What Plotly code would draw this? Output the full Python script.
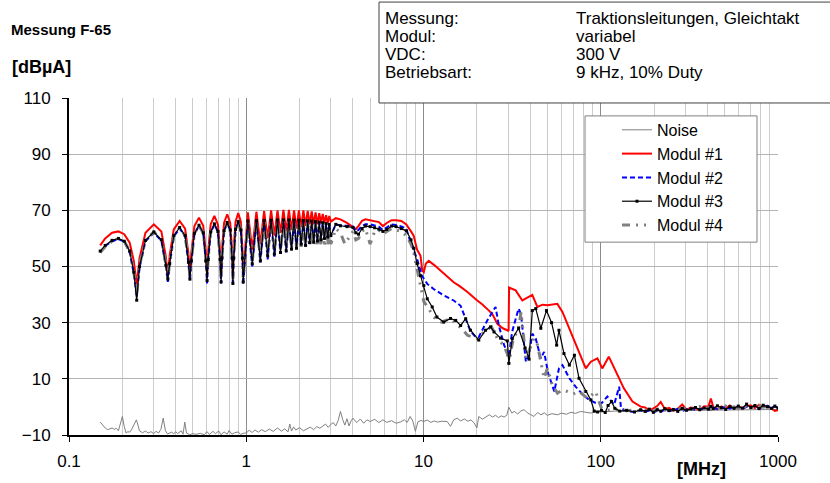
import plotly.graph_objects as go

# ---------------- data ----------------
COMB_F = [0.150, 0.160, 0.175, 0.190, 0.205, 0.220, 0.232, 0.241,
          0.250, 0.270, 0.301, 0.332, 0.352, 0.361,
          0.370, 0.390, 0.421, 0.452, 0.472, 0.481,
          0.490, 0.510, 0.541, 0.572, 0.592, 0.601,
          0.610, 0.630, 0.661, 0.692, 0.712, 0.721,
          0.730, 0.750, 0.781, 0.812, 0.832, 0.841,
          0.850, 0.870, 0.901, 0.932, 0.952, 0.961,
          1.021, 1.081, 1.141, 1.201, 1.261, 1.321, 1.381, 1.441, 1.501, 1.561,
          1.621, 1.681, 1.741, 1.801, 1.861, 1.921, 1.981, 2.041, 2.101, 2.161,
          2.221, 2.281, 2.341, 2.401, 2.461, 2.521, 2.581, 2.641, 2.701, 2.761,
          2.821, 2.881, 2.941, 3.001]

M1_COMB = [57.5, 60.0, 62.0, 62.5, 61.5, 58.5, 52.0, 43.5,
           53.0, 62.0, 65.0, 62.5, 53.5, 46.5,
           54.0, 63.2, 66.2, 63.5, 54.5, 47.0,
           55.0, 64.4, 67.4, 64.5, 55.0, 47.0,
           55.5, 65.0, 68.0, 65.0, 55.0, 46.5,
           56.0, 65.6, 68.6, 65.5, 55.5, 46.0,
           56.5, 66.0, 69.0, 66.0, 56.0, 46.5,
           69.3, 56.0, 69.5, 58.0, 69.7, 60.0, 70.0, 61.0, 70.0, 62.0,
           70.2, 62.5, 70.2, 63.0, 70.0, 63.5, 70.0, 64.0, 70.0, 64.5,
           69.8, 65.0, 69.6, 65.0, 69.3, 65.0, 69.0, 65.5, 68.7, 65.5,
           68.3, 65.5, 68.0, 66.0]

M2_COMB = [55.0, 57.3, 59.0, 59.8, 58.8, 55.0, 47.5, 39.0,
           49.5, 59.0, 62.0, 59.2, 50.0, 44.5,
           50.5, 60.7, 63.6, 60.8, 51.0, 45.0,
           51.5, 61.5, 64.5, 61.8, 51.5, 44.0,
           52.0, 62.0, 65.0, 62.3, 52.0, 44.0,
           52.5, 62.5, 65.5, 62.8, 52.5, 43.0,
           52.5, 63.0, 65.8, 62.8, 52.5, 43.5,
           66.0, 50.0, 66.1, 51.5, 66.2, 52.5, 66.3, 53.5, 66.4, 54.5,
           66.4, 55.0, 66.4, 55.8, 66.3, 56.5, 66.3, 57.0, 66.2, 57.5,
           66.1, 58.0, 66.0, 58.5, 65.9, 59.0, 65.8, 59.5, 65.6, 60.0,
           65.4, 60.5, 65.2, 61.0]

M3_COMB = [55.5, 57.5, 59.3, 60.0, 59.0, 55.5, 48.0, 38.0,
           50.0, 59.3, 62.3, 59.5, 50.5, 45.5,
           51.0, 61.0, 63.9, 61.0, 51.5, 45.5,
           52.0, 61.8, 64.7, 62.0, 52.0, 45.0,
           52.5, 62.3, 65.2, 62.5, 52.5, 44.5,
           53.0, 62.8, 65.7, 63.0, 53.0, 44.0,
           53.0, 63.2, 66.0, 63.0, 53.0, 44.5,
           66.2, 51.0, 66.3, 52.0, 66.4, 53.8, 66.5, 54.4, 66.6, 55.0,
           66.6, 55.6, 66.6, 56.2, 66.5, 56.5, 66.5, 58.0, 66.4, 57.5,
           66.3, 58.5, 66.2, 58.7, 66.0, 59.1, 65.8, 59.5, 65.6, 60.0,
           65.3, 60.5, 65.0, 61.0]

M4_COMB = [55.0, 57.0, 59.0, 59.8, 59.0, 55.5, 48.5, 39.5,
           50.5, 59.5, 62.3, 59.5, 51.0, 46.0,
           51.5, 61.0, 63.8, 61.0, 52.0, 46.5,
           52.5, 61.8, 64.6, 62.0, 52.5, 46.5,
           53.0, 62.3, 65.0, 62.5, 53.0, 46.0,
           53.5, 62.8, 65.5, 63.0, 53.5, 45.5,
           53.5, 63.0, 65.8, 63.0, 53.5, 46.0,
           66.0, 52.0, 66.0, 53.5, 66.1, 54.5, 66.1, 55.5, 66.0, 56.0,
           66.0, 56.5, 66.0, 56.5, 65.8, 57.0, 65.8, 57.0, 65.6, 57.5,
           65.5, 57.0, 65.3, 57.5, 65.0, 57.0, 64.8, 57.5, 64.5, 57.0,
           64.2, 57.5, 64.0, 58.0]

M1_MID_F = [3.2, 3.4, 3.7, 4.0, 4.15, 4.3, 4.5, 4.7, 5.0, 5.3,
            5.6, 5.9, 6.2, 6.6, 7.0, 7.5, 8.0, 8.5, 8.8, 9.2,
            9.62, 9.84, 10.04, 10.3, 10.7, 11.5, 13.0, 14.8, 16.0, 17.7,
            20.1, 21.5, 23.4, 24.5, 26.1, 28.0, 29.7, 30.2, 30.4, 33.1,
            36.1, 38.5, 41.1, 43.9, 46.9, 50.0, 53.0, 56.9, 60.8, 67.7,
            75.4, 82.3, 87.9, 95.8, 102, 111, 122, 135, 151, 168]
M1_MID = [67.2, 66.8, 65.5, 64.0, 63.3, 64.5, 66.3, 66.8, 66.5, 66.3,
          65.8, 64.4, 65.5, 66.5, 66.5, 66.2, 65.0, 62.5, 61.0, 56.0,
          53.8, 48.5, 48.0, 51.0, 52.0, 50.5, 47.5, 44.4, 43.0, 40.9,
          37.9, 36.5, 34.3, 33.0, 29.6, 28.0, 27.3, 27.0, 42.5, 41.5,
          37.9, 39.0, 39.9, 35.6, 36.4, 36.2, 36.5, 36.7, 33.8, 26.7,
          19.6, 13.7, 16.1, 17.3, 13.7, 17.9, 12.5, 6.6, 1.9, 0.1]

M2_MID_F = [3.2, 3.4, 3.7, 4.0, 4.15, 4.3, 4.5, 4.7, 5.0, 5.3,
            5.6, 5.9, 6.2, 6.6, 7.0, 7.5, 8.0, 8.45, 9.2, 9.8,
            10.5, 11.4, 13.0, 14.8, 16.2, 17.3, 18.4, 19.5, 20.5, 22.9,
            25.5, 26.6, 28.5, 29.7, 30.3, 31.6, 34.4, 35.5, 37.8, 39.4,
            41.1, 43.0, 45.9, 47.9, 50.5, 54.7, 58.1, 60.8, 66.5, 72.1,
            79.6, 86.0, 93.0, 101, 109, 119, 125, 127, 130, 140,
            155, 168]
M2_MID = [65.0, 64.6, 64.5, 64.3, 62.5, 63.0, 64.5, 65.0, 65.0, 64.7,
          64.2, 63.0, 64.0, 65.0, 64.8, 64.3, 63.5, 58.6, 52.7, 46.7,
          43.8, 42.0, 39.7, 37.9, 36.0, 31.0, 27.0, 25.2, 24.9, 30.8,
          35.6, 29.0, 22.0, 19.6, 18.0, 26.7, 35.0, 33.0, 16.1, 18.4,
          26.1, 24.3, 17.3, 19.6, 12.0, 5.5, 13.7, 14.9, 10.2, 7.2,
          4.3, 2.5, 1.5, 1.3, 3.7, 0.8, 5.0, 7.2, -0.4, -1.5,
          -1.8, -1.2]

M3_MID_F = [3.2, 3.4, 3.7, 4.0, 4.15, 4.3, 4.5, 4.7, 5.0, 5.3,
            5.6, 5.9, 6.2, 6.6, 7.0, 7.5, 8.0, 8.5, 8.82, 9.2,
            9.62, 10.04, 10.5, 11.2, 11.9, 13.0, 14.2, 15.2, 16.2, 17.3,
            18.4, 20.5, 22.4, 23.9, 25.0, 27.2, 29.7, 30.3, 31.7, 34.4,
            37.4, 39.4, 41.1, 43.0, 45.9, 49.4, 52.8, 56.4, 58.1, 62.0,
            66.5, 71.0, 75.4, 82.3, 87.9, 91.9, 96.0, 101, 106, 110,
            115, 120, 128, 140, 155, 168]
M3_MID = [65.0, 64.5, 64.2, 63.9, 62.0, 61.5, 63.5, 64.4, 64.2, 63.8,
          63.3, 62.5, 63.2, 64.4, 64.2, 63.5, 62.7, 59.5, 56.5, 51.0,
          46.7, 43.2, 38.5, 35.6, 32.0, 30.2, 31.5, 30.8, 29.0, 31.4,
          27.3, 23.8, 27.3, 28.5, 26.7, 24.5, 23.5, 15.5, 24.3, 28.0,
          21.0, 17.0, 34.3, 35.0, 28.0, 34.3, 30.0, 22.0, 27.3, 19.0,
          14.9, 18.4, 10.2, 5.5, 2.5, -1.5, -1.8, -1.2, -2.0, 0.5,
          1.9, -0.5, -1.5, -1.2, -1.8, -1.0]

M4_MID_F = [3.2, 3.4, 3.6, 3.8, 4.0, 4.15, 4.3, 4.5, 4.7, 5.0,
            5.3, 5.6, 5.9, 6.2, 6.6, 7.0, 7.5, 8.0, 8.5, 8.8,
            9.2, 9.6, 10.04, 10.7, 11.4, 12.6, 14.2, 16.4, 17.7, 20.1,
            22.4, 24.2, 26.1, 28.3, 29.7, 30.3, 32.0, 34.4, 35.5, 37.8,
            41.9, 44.0, 47.9, 50.0, 53.3, 57.0, 60.8, 64.8, 70.0, 75.4,
            80.0, 84.1, 90.0, 93.7, 97.8, 101, 110, 125, 140, 155,
            168]
M4_MID = [63.5, 62.0, 58.0, 60.5, 62.5, 59.5, 60.0, 62.5, 63.5, 58.0,
          62.5, 63.0, 61.5, 62.5, 63.5, 63.0, 62.5, 61.0, 58.0, 55.0,
          49.0, 44.0, 37.5, 35.0, 32.0, 30.2, 31.4, 27.9, 25.5, 24.3,
          27.3, 28.5, 24.3, 22.0, 19.0, 15.5, 24.0, 27.9, 33.8, 17.3,
          24.3, 22.0, 10.2, 13.7, 7.8, 4.9, 6.0, 5.5, 4.6, 5.5,
          4.3, 3.1, 4.5, 5.5, 1.9, -0.5, -1.2, -0.8, -1.4, -1.0,
          -1.6]

HI_F = [178, 188, 198, 208, 218, 230, 243, 257, 272, 288,
        305, 323, 342, 362, 383, 405, 418, 432, 455, 480,
        507, 535, 565, 597, 630, 665, 702, 741, 782, 826,
        872, 920, 960, 1000]
M1_HI = [-0.2, -1.2, -0.5, 0.3, 1.8, -0.8, -0.3, -1.4, -0.6, 0.9,
         -1.0, -0.2, -0.5, -1.1, 0.2, 0.1, 3.0, -0.2, -0.8, 0.2,
         -0.6, 0.5, -0.4, 0.3, -0.6, 0.2, 0.6, -0.4, 0.8, 0.0,
         0.4, -0.6, -1.4, -1.2]
M2_HI = [-1.8, -1.2, -2.0, -1.4, -1.7, -1.0, -1.5, -1.2, -0.8, -1.4,
         -0.9, -0.5, -1.1, -0.6, -0.9, -0.3, -0.7, -0.2, -0.8, -0.4,
         -0.1, -0.6, 0.2, -0.3, -0.7, 0.1, -0.4, 0.3, -0.5, 0.0,
         0.4, -0.3, 0.2, -0.5]
M3_HI = [-1.6, -0.8, -1.9, -1.0, -1.5, -0.6, -1.3, -0.9, -1.6, -0.5,
         -1.2, -0.7, -0.2, -1.0, -0.4, -0.8, 0.2, -0.6, 0.4, -0.3,
         -0.9, 0.1, -0.5, 0.3, -0.4, 1.0, -0.2, 0.5, -0.6, 0.6,
         0.0, -0.5, 0.3, -0.4]
M4_HI = [-1.2, -0.5, -1.6, -0.9, -0.3, -1.1, -0.6, -1.4, -0.4, -1.0,
         -0.2, -0.8, -0.5, 0.1, -0.7, -0.3, -0.9, 0.2, -0.4, -0.8,
         0.3, -0.5, 0.0, -0.6, 0.4, -0.2, 0.3, -0.5, 0.5, -0.1,
         0.2, -0.7, 0.1, -0.6]

NOISE = [(0.15, -5.4), (0.155, -6.5), (0.16, -7.5), (0.165, -8.1), (0.17, -7.8),
         (0.175, -7.5), (0.18, -8.0), (0.185, -7.6), (0.19, -8.5), (0.195, -6.0),
         (0.2, -3.4), (0.205, -7.0), (0.21, -9.3), (0.215, -8.8), (0.22, -9.0),
         (0.225, -8.2), (0.23, -7.0), (0.236, -5.5), (0.24, -4.6), (0.245, -6.5),
         (0.25, -8.5), (0.26, -9.2), (0.27, -8.6), (0.28, -9.3), (0.29, -8.8),
         (0.3, -9.5), (0.31, -8.7), (0.32, -9.3), (0.33, -8.0), (0.34, -4.0),
         (0.35, -8.5), (0.36, -9.6), (0.37, -9.4), (0.38, -9.0), (0.39, -9.6),
         (0.40, -8.8), (0.41, -9.5), (0.42, -9.0), (0.43, -8.5), (0.44, -9.7),
         (0.45, -5.4), (0.46, -9.3), (0.48, -9.9), (0.5, -9.5), (0.52, -9.8),
         (0.55, -9.4), (0.58, -9.9), (0.6, -8.8), (0.62, -9.8), (0.65, -8.7),
         (0.67, -9.5), (0.7, -8.6), (0.72, -9.9), (0.75, -8.9), (0.78, -9.7),
         (0.8, -8.4), (0.83, -9.7), (0.86, -9.2), (0.9, -8.9), (0.93, -9.8),
         (0.96, -9.4), (1.0, -9.3), (1.04, -8.3), (1.08, -9.1), (1.12, -8.2),
         (1.17, -9.0), (1.22, -8.1), (1.28, -8.8), (1.35, -7.9), (1.42, -8.7),
         (1.5, -7.5), (1.58, -8.6), (1.65, -7.8), (1.72, -8.9), (1.76, -6.1),
         (1.8, -8.6), (1.85, -7.1), (1.9, -8.2), (2.0, -7.4), (2.1, -8.5),
         (2.2, -7.7), (2.3, -7.2), (2.4, -8.1), (2.5, -7.0), (2.6, -7.6),
         (2.7, -6.8), (2.8, -6.1), (2.9, -7.3), (3.0, -6.2), (3.1, -5.6),
         (3.2, -6.8), (3.3, -4.8), (3.4, -1.6), (3.5, -4.5), (3.6, -6.5),
         (3.7, -4.2), (3.8, -6.8), (3.9, -5.0), (4.0, -4.0), (4.2, -5.6),
         (4.4, -4.3), (4.6, -5.8), (4.8, -4.6), (5.0, -5.2), (5.3, -4.4),
         (5.6, -5.6), (5.9, -4.6), (6.2, -5.5), (6.6, -4.9), (7.0, -5.8),
         (7.4, -5.4), (7.8, -4.6), (8.1, -5.5), (8.4, -3.4), (8.7, -5.0),
         (9.0, -8.7), (9.3, -5.3), (9.7, -4.8), (10.0, -5.2), (10.5, -4.7),
         (11.0, -5.5), (11.5, -5.0), (12.0, -5.4), (12.6, -5.1), (13.2, -5.3),
         (13.6, -5.2), (14.2, -6.9), (14.8, -4.6), (15.5, -4.0), (16.2, -5.0),
         (17.0, -4.3), (17.8, -5.1), (18.5, -4.6), (19.3, -5.7), (20.0, -7.5),
         (20.5, -3.4), (21.5, -4.4), (22.5, -3.5), (23.5, -2.8), (24.5, -3.6),
         (25.5, -3.0), (26.5, -3.8), (27.5, -3.2), (28.5, -3.6), (29.5, -3.0),
         (30.3, -0.1), (31.5, -2.2), (32.5, -1.6), (34.0, -2.5), (35.5, -1.4),
         (37.0, -1.0), (38.5, -2.1), (40.0, -2.7), (42.0, -3.4), (44.0, -2.0),
         (46.0, -2.8), (48.0, -2.1), (50.0, -3.0), (53.0, -2.4), (57.0, -2.8),
         (60.0, -2.2), (64.0, -2.6), (68.0, -1.9), (72.0, -2.3), (77.0, -1.6),
         (82.0, -2.0), (88.0, -2.2), (94.0, -1.7), (100.0, -1.8), (120.0, -1.5),
         (150.0, -1.6), (200.0, -1.4), (300.0, -1.3), (500.0, -1.1), (700.0, -1.0),
         (1000.0, -0.9)]

X_TICKS = [0.1, 1, 10, 100, 1000]
X_TICKTEXT = ["0.1", "1", "10", "100", "1000"]

INFO_LABELS = ["Messung:", "Modul:", "VDC:", "Betriebsart:"]
INFO_VALUES = ["Traktionsleitungen, Gleichtakt", "variabel", "300 V", "9 kHz, 10% Duty"]

# ---------------- figure ----------------
FONT = "Liberation Sans, Arial, sans-serif"
fig = go.Figure()

noise_f = [p[0] for p in NOISE]
noise_v = [p[1] for p in NOISE]
fig.add_trace(go.Scatter(x=noise_f, y=noise_v, mode="lines", name="Noise",
                         line=dict(color="#808080", width=1),
                         legendgroup="g0", legendrank=1))

fig.add_trace(go.Scatter(x=COMB_F + M1_MID_F + HI_F, y=M1_COMB + M1_MID + M1_HI,
                         mode="lines", name="Modul #1",
                         line=dict(color="#ff0000", width=2),
                         legendgroup="g1", legendrank=2))

fig.add_trace(go.Scatter(x=COMB_F + M2_MID_F + HI_F, y=M2_COMB + M2_MID + M2_HI,
                         mode="lines", name="Modul #2",
                         line=dict(color="#0000ff", width=2, dash="5px,3px"),
                         legendgroup="g2", legendrank=3))

fig.add_trace(go.Scatter(x=COMB_F + M4_MID_F + HI_F, y=M4_COMB + M4_MID + M4_HI,
                         mode="lines", name="Modul #4",
                         line=dict(color="#808080", width=3, dash="8px,6px,2px,6px,2px,6px"),
                         legendgroup="g4", legendrank=5))

fig.add_trace(go.Scatter(x=COMB_F + M3_MID_F + HI_F, y=M3_COMB + M3_MID + M3_HI,
                         mode="lines+markers", name="Modul #3",
                         line=dict(color="#000000", width=1.2),
                         marker=dict(color="#000000", size=3, symbol="square"),
                         legendgroup="g3", legendrank=4))

fig.update_layout(
    width=830, height=483,
    margin=dict(l=69, r=52, t=98, b=46),
    paper_bgcolor="white", plot_bgcolor="white",
    font=dict(family=FONT, size=16, color="black"),
    showlegend=True,
    legend=dict(x=(617 - 69) / 709, y=(437 - 113) / 339, xanchor="left", yanchor="top",
                bgcolor="rgba(0,0,0,0)", borderwidth=0,
                font=dict(family=FONT, size=16, color="black"),
                tracegroupgap=4.5, traceorder="normal"),
)

fig.update_xaxes(type="log", range=[-1, 3], tickmode="array",
                 tickvals=X_TICKS, ticktext=X_TICKTEXT,
                 ticks="outside", ticklen=5, tickcolor="black",
                 ticklabelstandoff=5,
                 tickfont=dict(family=FONT, size=17, color="black"),
                 showline=True, linecolor="black", linewidth=2,
                 showgrid=True, gridcolor="#8c8c8c", gridwidth=1,
                 minor=dict(showgrid=True, gridcolor="#cccccc", gridwidth=1, dtick="D1"),
                 zeroline=False)

fig.update_yaxes(range=[-10, 110], tickmode="linear", tick0=-10, dtick=20,
                 ticks="outside", ticklen=5, tickcolor="black",
                 ticklabelstandoff=8,
                 tickfont=dict(family=FONT, size=17, color="black"),
                 showline=True, linecolor="black", linewidth=2,
                 showgrid=True, gridcolor="#b4b4b4", gridwidth=1,
                 zeroline=False)

# legend frame
fig.add_shape(type="rect", xref="paper", yref="paper",
              x0=(585 - 69) / 709, x1=(757 - 69) / 709,
              y0=(437 - 243) / 339, y1=(437 - 116) / 339,
              fillcolor="white", line=dict(color="#808080", width=1), layer="above")

# info box
fig.add_shape(type="rect", xref="paper", yref="paper",
              x0=(379 - 69) / 709, x1=1.2, y0=(437 - 103) / 339, y1=(437 - 1.5) / 339,
              fillcolor="white", line=dict(color="#404040", width=1), layer="above")

row_y = [18, 36, 54, 72]
for lab, val, py in zip(INFO_LABELS, INFO_VALUES, row_y):
    fig.add_annotation(text=lab, xref="paper", yref="paper",
                       x=(383 - 69) / 709, y=(437 - py) / 339,
                       xanchor="left", yanchor="middle", showarrow=False,
                       font=dict(family=FONT, size=17, color="black"))
    fig.add_annotation(text=val, xref="paper", yref="paper",
                       x=(574 - 69) / 709, y=(437 - py) / 339,
                       xanchor="left", yanchor="middle", showarrow=False,
                       font=dict(family=FONT, size=17, color="black"))

fig.add_annotation(text="<b>Messung F-65</b>", xref="paper", yref="paper",
                   x=(9 - 69) / 709, y=(437 - 29) / 339, xanchor="left", yanchor="middle",
                   showarrow=False, font=dict(family=FONT, size=15, color="black"))
fig.add_annotation(text="<b>[dBµA]</b>", xref="paper", yref="paper",
                   x=(10 - 69) / 709, y=(437 - 67) / 339, xanchor="left", yanchor="middle",
                   showarrow=False, font=dict(family=FONT, size=18, color="black"))
fig.add_annotation(text="<b>[MHz]</b>", xref="paper", yref="paper",
                   x=(701 - 69) / 709, y=(437 - 471) / 339, xanchor="center", yanchor="middle",
                   showarrow=False, font=dict(family=FONT, size=18, color="black"))

fig.write_html("out.html")
